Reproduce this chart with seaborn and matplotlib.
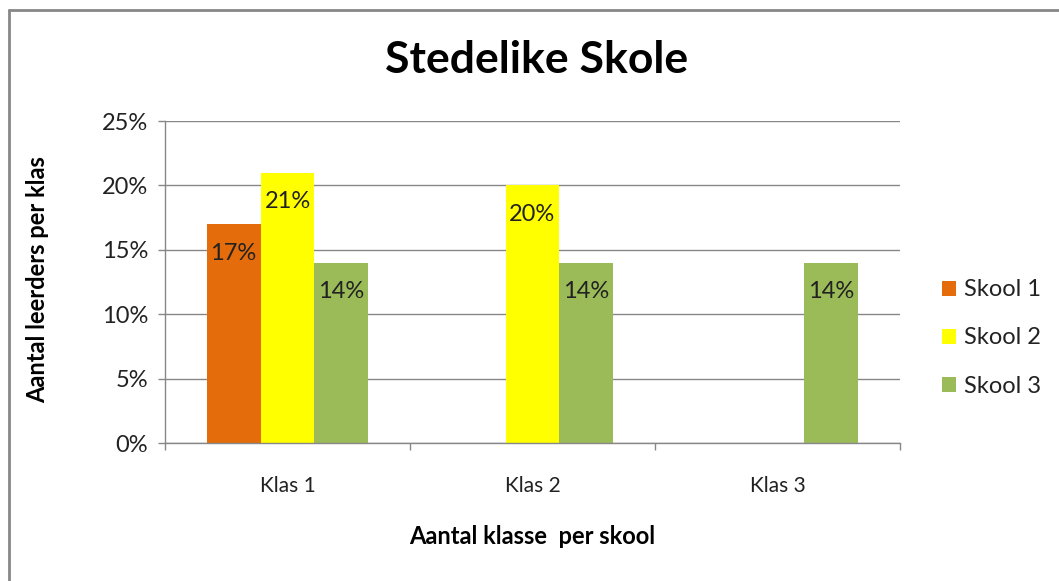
import numpy as np
import pandas as pd
import matplotlib
matplotlib.use("Agg")
import matplotlib.pyplot as plt
from matplotlib.lines import Line2D
from matplotlib.ticker import FuncFormatter
import seaborn as sns

categories = ["Klas 1", "Klas 2", "Klas 3"]
schools = ["Skool 1", "Skool 2", "Skool 3"]
skool1 = [17, np.nan, np.nan]
skool2 = [21, 20, np.nan]
skool3 = [14, 14, 14]
colors = ["#E46C0A", "#FFFF00", "#9BBB59"]
yticks = [0, 5, 10, 15, 20, 25]

rows = []
for s, vals in zip(schools, [skool1, skool2, skool3]):
    for c, v in zip(categories, vals):
        rows.append({"Klas": c, "Skool": s, "Waarde": v})
df = pd.DataFrame(rows)

sns.set_theme(style="white")
plt.rcParams["font.family"] = ["Lato", "DejaVu Sans"]

fig = plt.figure(figsize=(10.59, 5.81), dpi=100)
ax = fig.add_axes([165/1059, 1-443/581, (900-165)/1059, (443-121)/581])

sns.barplot(data=df, x="Klas", y="Waarde", hue="Skool", order=categories,
            hue_order=schools, palette=colors, width=0.66, ax=ax,
            saturation=1, legend=True, errorbar=None, linewidth=0)

gray = "#878787"
txt = "#222222"
ax.set_ylim(0, 25)
ax.set_xlim(-0.5, 2.5)
ax.set_yticks(yticks)
ax.yaxis.set_major_formatter(FuncFormatter(lambda v, p: f"{v:.0f}%"))
ax.yaxis.grid(True, color=gray, linewidth=1)
ax.set_axisbelow(True)
for sp in ["top", "right"]:
    ax.spines[sp].set_visible(False)
for sp in ["left", "bottom"]:
    ax.spines[sp].set_color(gray)
    ax.spines[sp].set_linewidth(1)
ax.tick_params(axis="y", length=5, color=gray, width=1, left=True,
               labelsize=17, labelcolor=txt, pad=7)
ax.tick_params(axis="x", which="major", length=0, labelsize=15,
               labelcolor=txt, pad=24)
ax.set_xticks([-0.5, 0.5, 1.5, 2.5], minor=True)
ax.tick_params(axis="x", which="minor", length=5, color=gray, width=1, bottom=True)
ax.set_xlabel("")
ax.set_ylabel("")

for cont in ax.containers:
    for bar in cont:
        h = bar.get_height()
        if np.isfinite(h) and h > 0:
            ax.annotate(f"{h:.0f}%", (bar.get_x() + bar.get_width()/2, h),
                        xytext=(0, -21), textcoords="offset points",
                        ha="center", va="center", fontsize=17, color=txt)

handles, labels = ax.get_legend_handles_labels()
ax.legend_.remove()
fig.legend(handles, labels, loc="center left",
           bbox_to_anchor=(921/1059, 1-338/581), frameon=False,
           fontsize=17, handlelength=0.6, handleheight=0.6,
           handletextpad=0.3, labelspacing=1.15, labelcolor=txt)

fig.text(537/1059, 1-60/581, "Stedelike Skole", ha="center", va="center",
         fontsize=32, fontweight="bold", color="black")
fig.text(532/1059, 1-537/581, "Aantal klasse  per skool", ha="center",
         va="center", fontsize=17, fontweight="bold", color="black")
fig.text(38/1059, 1-280/581, "Aantal leerders per klas", ha="center",
         va="center", rotation=90, fontsize=17, fontweight="bold", color="black")

fig.add_artist(Line2D([8.5/1059, 1], [1-9.5/581, 1-9.5/581],
                      transform=fig.transFigure, color=gray, linewidth=2))
fig.add_artist(Line2D([8.5/1059, 8.5/1059], [1-9.5/581, 0],
                      transform=fig.transFigure, color=gray, linewidth=2))

fig.savefig("out.png", dpi=100)
